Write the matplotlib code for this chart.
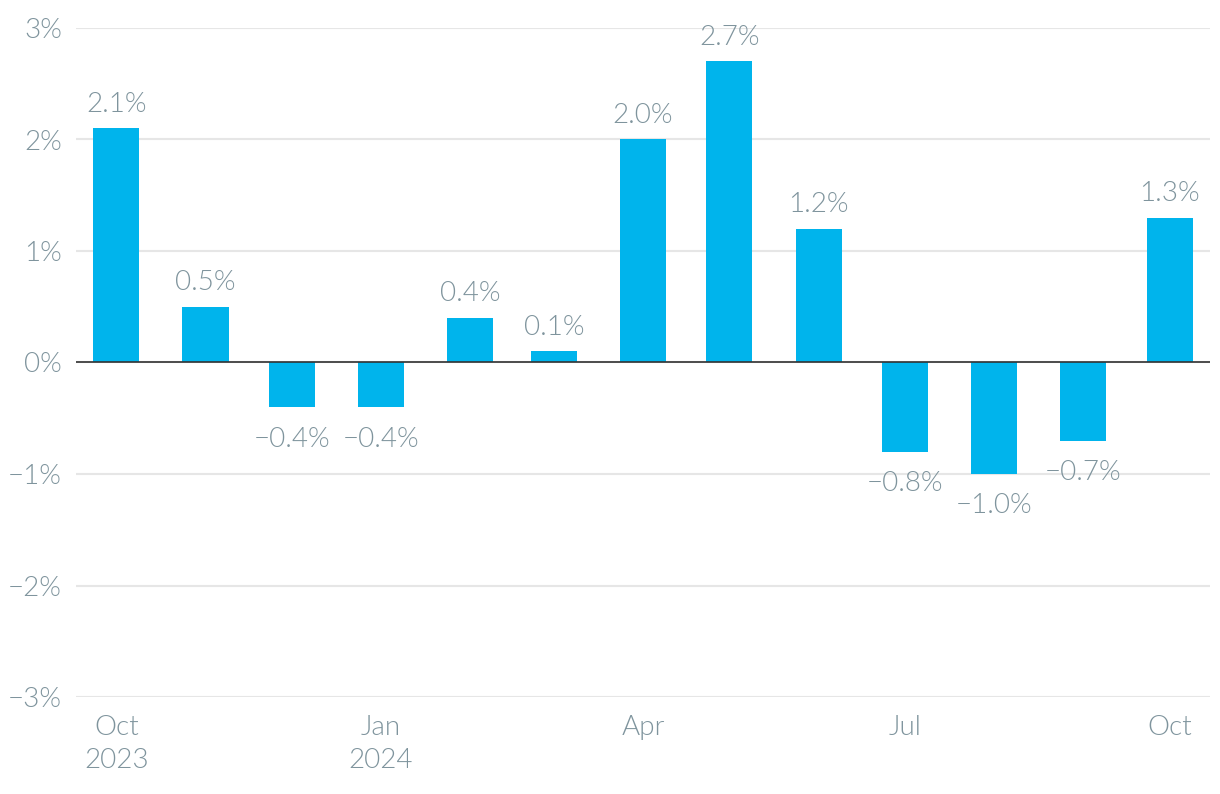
import matplotlib
matplotlib.use("Agg")
import matplotlib.pyplot as plt
import datetime as dt

months = ["2023-10", "2023-11", "2023-12", "2024-01", "2024-02", "2024-03", "2024-04",
          "2024-05", "2024-06", "2024-07", "2024-08", "2024-09", "2024-10"]
values = [2.1, 0.5, -0.4, -0.4, 0.4, 0.1, 2.0, 2.7, 1.2, -0.8, -1.0, -0.7, 1.3]
tick_months = ["2023-10", "2024-01", "2024-04", "2024-07", "2024-10"]
tick_labels = ["Oct\n2023", "Jan\n2024", "Apr", "Jul", "Oct"]
y_ticks = [-3, -2, -1, 0, 1, 2, 3]

BAR = "#00b4ec"
TXT = "#7f949d"
GRID = "#e6e6e6"
WEIGHT = 300  # Lato Light ('light' in matplotlib means 200 -> Thin)
FS = 20

plt.rcParams['font.family'] = ['Lato', 'DejaVu Sans']
plt.rcParams['font.weight'] = WEIGHT


def todate(s):
    y, m = s.split("-")
    return dt.date(int(y), int(m), 1)


dates = [todate(m) for m in months]

fig = plt.figure(figsize=(12.2, 7.94), dpi=100)
ax = fig.add_axes([76 / 1220, 1 - 697 / 794, (1210 - 76) / 1220, (697 - 28) / 794])

ax.bar(dates, values, width=16, color=BAR, zorder=3)

# value labels above / below each bar
for d, v in zip(dates, values):
    txt = f"{v:.1f}%".replace("-", "\u2212")
    off = 8.5 if v >= 0 else -14
    ax.annotate(txt, (d, v), xytext=(0, off), textcoords="offset points",
                ha="center", va="bottom" if v >= 0 else "top",
                fontsize=FS, color=TXT, fontweight=WEIGHT)

ax.set_ylim(-3, 3)
ax.set_xlim(dates[0] - dt.timedelta(days=14.0), dates[-1] + dt.timedelta(days=14.3))
ax.set_yticks(y_ticks)
ax.set_yticklabels([f"{t}%".replace("-", "\u2212") for t in y_ticks])
ax.set_xticks([todate(m) for m in tick_months])
ax.set_xticklabels(tick_labels)

ax.grid(axis="y", color=GRID, linewidth=1.5, zorder=0)
ax.axhline(0, color="#333333", linewidth=1.2, zorder=4)
for s in ax.spines.values():
    s.set_visible(False)
ax.tick_params(axis="both", length=0, labelsize=FS, colors=TXT)
ax.tick_params(axis="y", pad=10)
ax.tick_params(axis="x", pad=13)
for lbl in ax.get_xticklabels() + ax.get_yticklabels():
    lbl.set_fontweight(WEIGHT)
    lbl.set_linespacing(1.38)

fig.savefig("out.png", dpi=100)
